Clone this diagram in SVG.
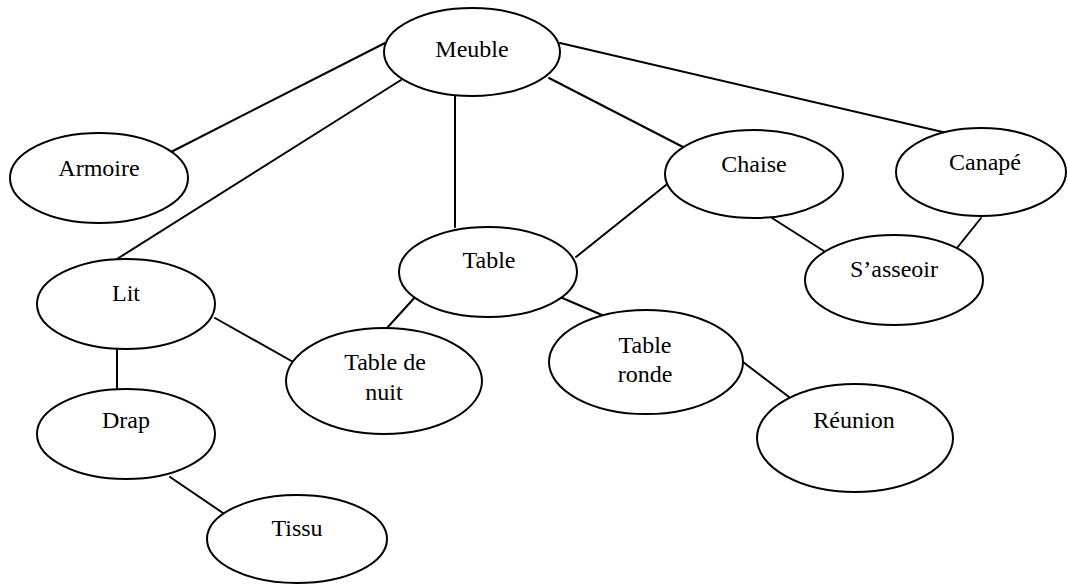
<svg xmlns="http://www.w3.org/2000/svg" width="1068" height="584" viewBox="0 0 1068 584">
  <style>
    .node ellipse { fill: #ffffff; stroke: #000000; stroke-width: 2; }
    .node text { font-family: "Liberation Serif", "Times New Roman", serif; font-size: 24px; fill: #000000; text-anchor: middle; }
    #edges line { stroke: #000000; stroke-width: 2; stroke-linecap: round; }
  </style>
  <rect width="1068" height="584" fill="#ffffff"/>

  <g id="edges">
    <line x1="385" y1="43" x2="171" y2="152"/>
    <line x1="401" y1="80" x2="117" y2="259"/>
    <line x1="455" y1="96" x2="455" y2="227"/>
    <line x1="549" y1="78" x2="683" y2="147"/>
    <line x1="560" y1="43" x2="947" y2="133"/>
    <line x1="666" y1="185" x2="576" y2="257"/>
    <line x1="772" y1="218" x2="827" y2="253"/>
    <line x1="981" y1="218" x2="953" y2="253"/>
    <line x1="417" y1="295" x2="387" y2="328"/>
    <line x1="560" y1="297" x2="602" y2="315"/>
    <line x1="215" y1="318" x2="295" y2="363"/>
    <line x1="117" y1="348" x2="117" y2="390"/>
    <line x1="743" y1="362" x2="789" y2="397"/>
    <line x1="170" y1="477" x2="223" y2="513"/>
  </g>

  <g id="meuble" class="node">
    <ellipse cx="472" cy="52" rx="88" ry="44"/>
    <text x="472" y="57">Meuble</text>
  </g>
  <g id="armoire" class="node">
    <ellipse cx="99" cy="178" rx="89" ry="45"/>
    <text x="99" y="176">Armoire</text>
  </g>
  <g id="chaise" class="node">
    <ellipse cx="754" cy="174" rx="89" ry="44"/>
    <text x="754" y="172">Chaise</text>
  </g>
  <g id="canape" class="node">
    <ellipse cx="981" cy="172" rx="85" ry="44"/>
    <text x="985" y="170">Canapé</text>
  </g>
  <g id="table" class="node">
    <ellipse cx="488" cy="272" rx="89" ry="45"/>
    <text x="489" y="268">Table</text>
  </g>
  <g id="lit" class="node">
    <ellipse cx="126" cy="304" rx="89" ry="45"/>
    <text x="126" y="301">Lit</text>
  </g>
  <g id="sasseoir" class="node">
    <ellipse cx="894" cy="280" rx="89" ry="45"/>
    <text x="894" y="277">S’asseoir</text>
  </g>
  <g id="table-de-nuit" class="node">
    <ellipse cx="384" cy="381" rx="98" ry="53"/>
    <text x="385" y="370">Table de</text>
    <text x="384" y="400">nuit</text>
  </g>
  <g id="table-ronde" class="node">
    <ellipse cx="646" cy="362" rx="97" ry="52"/>
    <text x="645" y="353">Table</text>
    <text x="645" y="382">ronde</text>
  </g>
  <g id="drap" class="node">
    <ellipse cx="126" cy="434" rx="89" ry="45"/>
    <text x="126" y="428">Drap</text>
  </g>
  <g id="reunion" class="node">
    <ellipse cx="855" cy="438" rx="98" ry="54"/>
    <text x="854" y="428">Réunion</text>
  </g>
  <g id="tissu" class="node">
    <ellipse cx="297" cy="539" rx="90" ry="44"/>
    <text x="297" y="536">Tissu</text>
  </g>
</svg>
